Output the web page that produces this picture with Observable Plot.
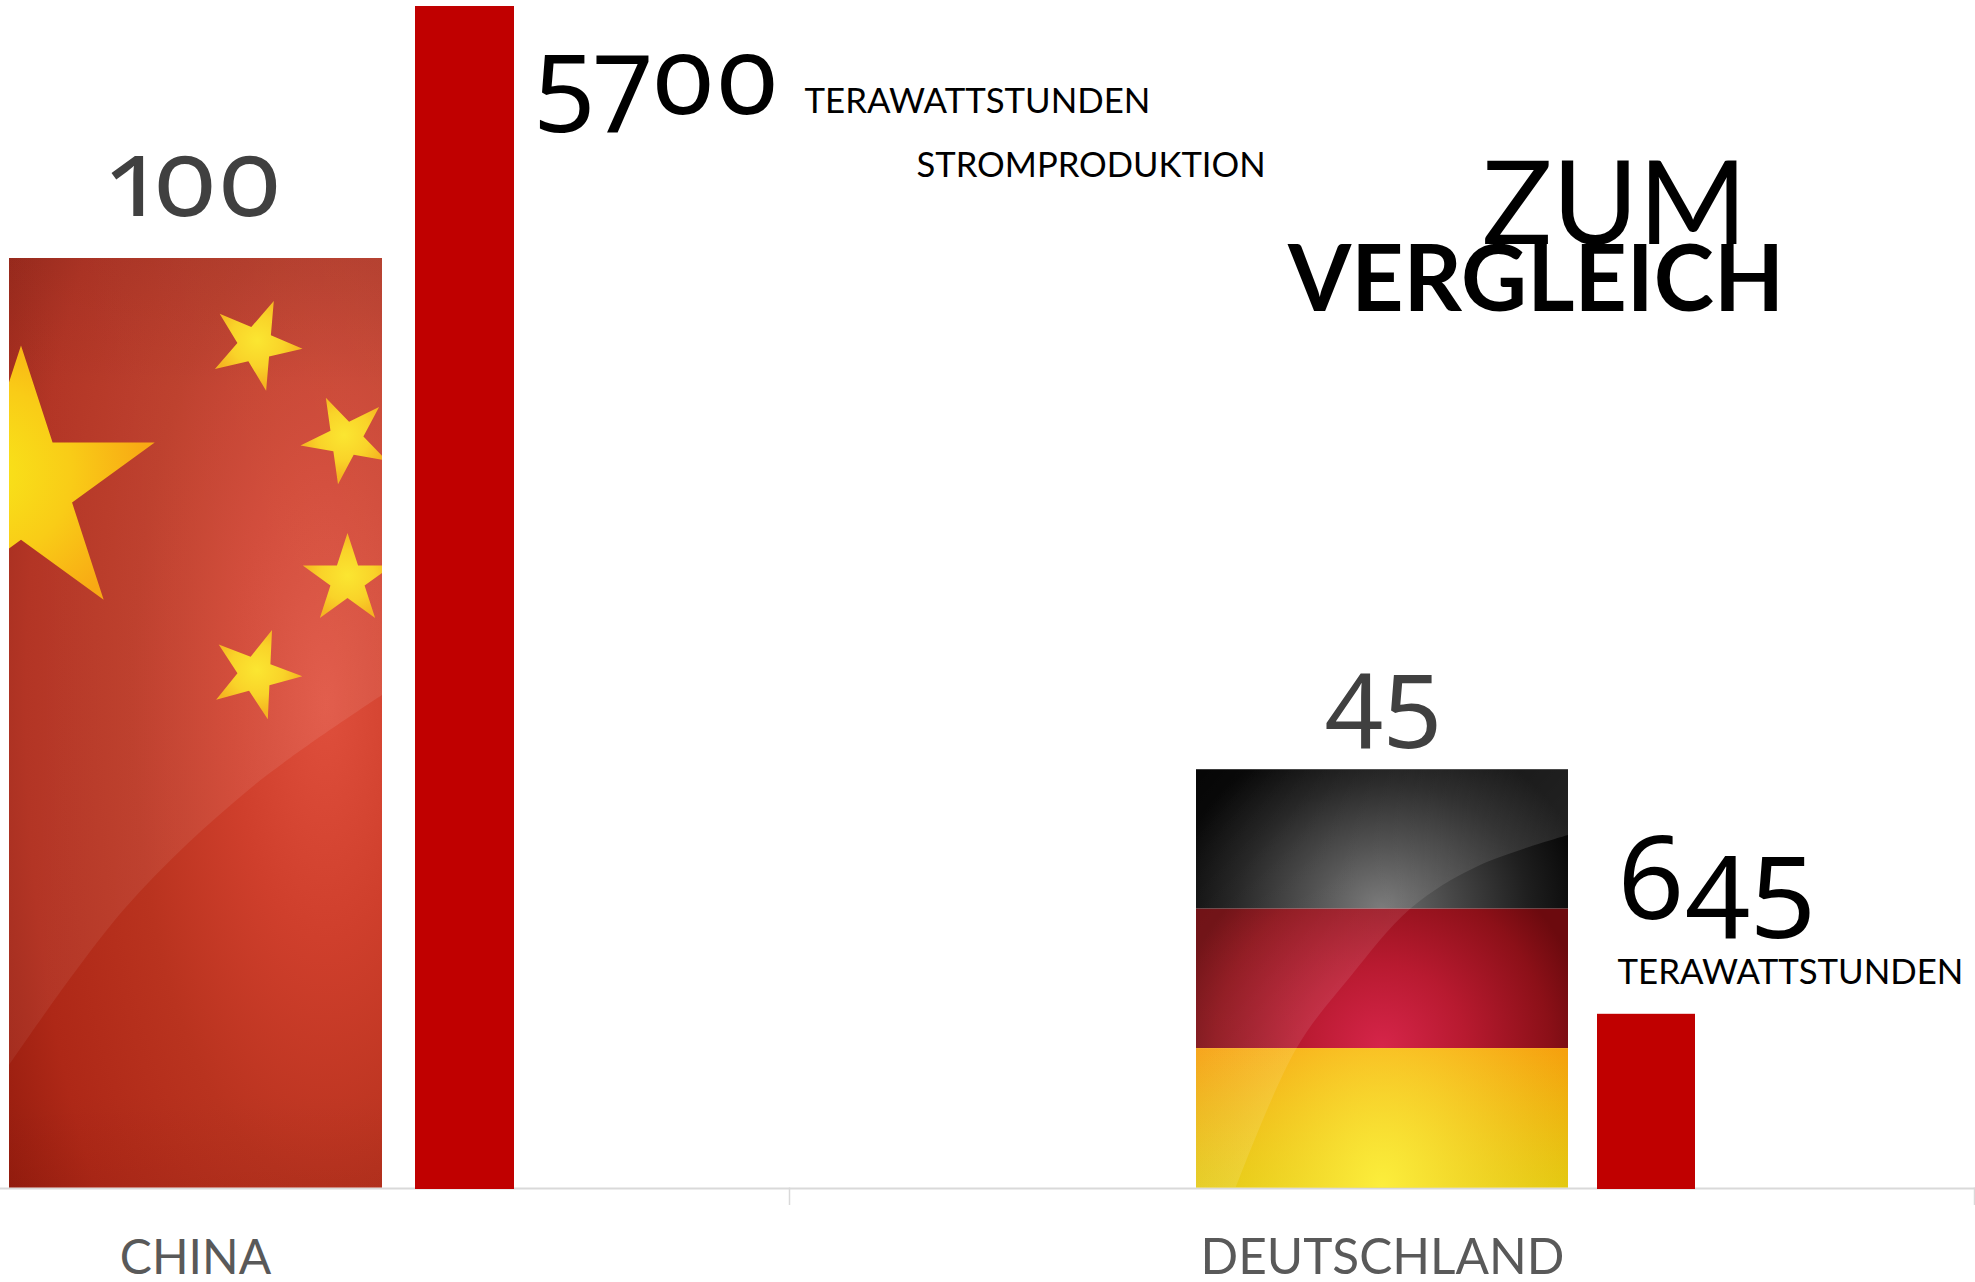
<!DOCTYPE html>
<html lang="de">
<head>
<meta charset="utf-8">
<title>Stromproduktion zum Vergleich</title>
<script src="https://cdn.jsdelivr.net/npm/d3@7"></script>
<script src="https://cdn.jsdelivr.net/npm/@observablehq/plot@0.6"></script>
<style>
  html, body { margin: 0; padding: 0; background: #fff; }
  svg { display: block; }
  .onum text { font-feature-settings: "onum" 1, "pnum" 1; font-variant-numeric: oldstyle-nums proportional-nums; }
</style>
</head>
<body>
<div id="chart"></div>
<script>
// ---- data ----
const laender = ["CHINA", "DEUTSCHLAND"];
const flaggenWerte = [100, 45];
const stromLabels = ["5700", "645"];
const stromBalken = [5700, 838];   // drawn length of the red bars
const einheit = "TERAWATTSTUNDEN";
const kopf = ["STROMPRODUKTION", "ZUM", "VERGLEICH"];

// ---- layout ----
const W = 1975, H = 1282, base = 1187.5, flagTop = 258;
const pxPerUnit = (base - flagTop) / 100;
const py = p => (base - p) / pxPerUnit;      // pixel row -> y scale units
const barFactor = ((base - 6) / pxPerUnit) / 5700;   // TWh -> y scale units
const flagX = [[9, 382], [1196, 1568]];
const barX = [[415, 514], [1597, 1695]];
const labelX = [195, 1382];
const FONT = "Lato, 'Open Sans', sans-serif";
const NUMFONT = "'Noto Sans', 'Open Sans', sans-serif";

const flagTable = laender.map((land, i) => ({land, v: flaggenWerte[i], x1: flagX[i][0], x2: flagX[i][1]}));
const barTable = laender.map((land, i) => ({land, v: stromBalken[i], x1: barX[i][0], x2: barX[i][1]}));
const cnLayers = ["cnBase", "cnEdge"].map(id => ({id, x1: flagX[0][0], x2: flagX[0][1], v: flaggenWerte[0]}));
const stripes = ["deBlack", "deRed", "deGoldBase", "deGoldGlow"].map((id, i) => {
  const k = Math.min(i, 2);
  return {id, x1: flagX[1][0], x2: flagX[1][1], y1: flaggenWerte[1] * (3 - k) / 3, y2: flaggenWerte[1] * (2 - k) / 3};
});

const NS = "http://www.w3.org/2000/svg";
function el(name, attrs, parent) {
  const e = document.createElementNS(NS, name);
  for (const k in attrs) e.setAttribute(k, attrs[k]);
  if (parent) parent.appendChild(e);
  return e;
}
function radial(defs, id, cx, cy, r, stops, tf) {
  const a = {id, cx, cy, r};
  if (tf) a.gradientTransform = tf;
  const g = el("radialGradient", a, defs);
  for (const [o, c, op] of stops) el("stop", {offset: o, "stop-color": c, "stop-opacity": op === undefined ? 1 : op}, g);
}
function linear(defs, id, x2, y2, stops) {
  const g = el("linearGradient", {id, x1: 0, y1: 0, x2, y2}, defs);
  for (const [o, c, op] of stops) el("stop", {offset: o, "stop-color": c, "stop-opacity": op === undefined ? 1 : op}, g);
}

function flagDefs() {
  const defs = el("defs", {});
  radial(defs, "cnBase", 0.85, 0.48, 1.15, [[0, "#df4f3c"], [0.22, "#cf3f2c"], [0.45, "#b9331f"], [0.7, "#ae2817"], [0.88, "#951c0e"], [1, "#8e190b"]]);
  linear(defs, "cnEdge", 0, 1, [[0, "#3a0500", 0.1], [0.14, "#3a0500", 0], [0.9, "#3a0500", 0], [1, "#3a0500", 0.06]]);
  const band = "translate(.5 1) scale(.56 1.5) translate(-.5 -1)";
  radial(defs, "deBlack", 0.5, 1, 1, [[0, "#707070"], [0.35, "#464646"], [0.7, "#1f1f1f"], [1, "#050505"]], "translate(.5 1) scale(.56 1.3) translate(-.5 -1)");
  radial(defs, "deRed", 0.5, 1, 1, [[0, "#d6254a"], [0.4, "#b81a30"], [0.8, "#8c1018"], [1, "#6c0a0e"]], band);
  linear(defs, "deGoldBase", 0, 1, [[0, "#f6a00e"], [1, "#e0c70c"]]);
  radial(defs, "deGoldGlow", 0.5, 1, 1, [[0, "#fcee3c", 1], [1, "#fcd83c", 0]], "translate(.5 1) scale(.56 2) translate(-.5 -1)");
  radial(defs, "goldBig", 0.35, 0.5, 0.62, [[0, "#f8e71a"], [0.55, "#f9cc17"], [1, "#f8a914"]]);
  radial(defs, "goldSmall", 0.5, 0.5, 0.5, [[0, "#fbe631"], [0.6, "#f9d329"], [1, "#f5b521"]]);
  linear(defs, "cnGloss", 1, 0, [[0, "#fff", 0.06], [1, "#fff", 0.09]]);
  linear(defs, "deGloss", 1, 1, [[0, "#fff", 0], [1, "#fff", 0.2]]);
  const c1 = el("clipPath", {id: "clipCn"}, defs);
  el("rect", {x: flagX[0][0], y: flagTop, width: flagX[0][1] - flagX[0][0], height: base - flagTop}, c1);
  const c2 = el("clipPath", {id: "clipDe"}, defs);
  el("rect", {x: flagX[1][0], y: base - 45 * pxPerUnit, width: flagX[1][1] - flagX[1][0], height: 45 * pxPerUnit}, c2);
  return defs;
}

// flag artwork: the stars and the glossy swoosh of each flag image
const starShapes = [
  {x: 21, y: 486, R: 140.6, rot: 0, fill: "goldBig"},
  {x: 255.4, y: 344.6, R: 47.3, rot: 22.9, fill: "goldSmall"},
  {x: 346, y: 439, R: 46, rot: -26, fill: "goldSmall"},
  {x: 347.5, y: 580, R: 47, rot: 0, fill: "goldSmall"},
  {x: 255.4, y: 674, R: 47, rot: 20.7, fill: "goldSmall"}
];
function smooth(pts) { return d3.line().curve(d3.curveCatmullRom)(pts).slice(1); }

function flagArt() {
  const g = el("g", {});
  const cn = el("g", {"clip-path": "url(#clipCn)"}, g);
  const sw = smooth([[9, 1065], [126, 907], [252, 787], [382, 695]]);
  el("path", {d: `M${sw}L382,258L9,258Z`, fill: "url(#cnGloss)"}, cn);
  for (const s of starShapes) {
    const sym = d3.symbol(d3.symbolStar, s.R * s.R / 0.8908130915292852)();
    el("path", {d: sym, transform: `translate(${s.x},${s.y}) rotate(${s.rot})`, fill: `url(#${s.fill})`}, cn);
  }
  const de = el("g", {"clip-path": "url(#clipDe)"}, g);
  const sd = smooth([[1236, 1187], [1296, 1049], [1350, 977], [1411, 908], [1478, 866], [1568, 835]]);
  el("path", {d: `M${sd}L1568,760L1196,760L1196,1187Z`, fill: "url(#deGloss)"}, de);
  return g;
}

const textBase = {fontFamily: FONT, lineAnchor: "bottom"};
const num = {fontFamily: NUMFONT, lineAnchor: "bottom", className: "onum"};

const chart = Plot.plot({
  width: W, height: H,
  margin: 0,
  style: {background: "#fff", overflow: "visible"},
  x: {domain: [0, W], range: [0, W], axis: null},
  y: {domain: [py(H), py(0)], range: [H, 0], axis: null},
  marks: [
    flagDefs,
    Plot.ruleY([0], {x1: 0, x2: W, stroke: "#d9d9d9", strokeWidth: 2, dy: 0.5}),
    Plot.ruleX([789, 1974], {y1: 0, y2: py(1205), stroke: "#d9d9d9", strokeWidth: 1.5}),
    Plot.rect(cnLayers, {x1: "x1", x2: "x2", y1: 0, y2: "v", fill: d => `url(#${d.id})`}),
    Plot.rect(stripes, {x1: "x1", x2: "x2", y1: "y1", y2: "y2", fill: d => `url(#${d.id})`}),
    flagArt,
    Plot.rect(barTable, {x1: "x1", x2: "x2", y1: 0, y2: d => d.v * barFactor, fill: "#c00000", insetBottom: -1.5}),

    Plot.text(flagTable.slice(0, 1), {x: labelX[0], y: "v", dy: -43, text: d => String(d.v), ...num, textAnchor: "middle", fontSize: 110, fill: "#404040"}),
    Plot.text(flagTable.slice(1), {x: labelX[1], y: "v", dy: -39, text: d => String(d.v), ...num, textAnchor: "middle", fontSize: 104, fill: "#404040"}),
    Plot.text(laender.slice(0, 1), {x: labelX[0], y: py(1273), text: d => d, ...textBase, textAnchor: "middle", fontSize: 48, fill: "#595959"}),
    Plot.text(laender.slice(1), {x: labelX[1], y: py(1273), text: d => d, ...textBase, textAnchor: "middle", fontSize: 49.5, fill: "#595959"}),

    Plot.text([stromLabels[0]], {x: 533, y: py(113), text: d => d, ...num, textAnchor: "start", fontSize: 109, fill: "#000"}),
    Plot.text([stromLabels[1]], {x: 1617, y: py(918), text: d => d, ...num, textAnchor: "start", fontSize: 116, fill: "#000"}),
    Plot.text([einheit], {x: 804, y: py(112), text: d => d, ...textBase, textAnchor: "start", fontSize: 34.8, fill: "#000"}),
    Plot.text([einheit], {x: 1617, y: py(983), text: d => d, ...textBase, textAnchor: "start", fontSize: 34.8, fill: "#000"}),
    Plot.text([kopf[0]], {x: 916, y: py(176), text: d => d, ...textBase, textAnchor: "start", fontSize: 34.6, fill: "#000"}),
    Plot.text([kopf[1]], {x: 1614, y: py(243), text: d => d, ...textBase, textAnchor: "middle", fontSize: 117, fill: "#000"}),
    Plot.text([kopf[2]], {x: 1535.5, y: py(310), text: d => d, ...textBase, textAnchor: "middle", fontSize: 91, fontWeight: 700, fill: "#000"})
  ]
});
document.getElementById("chart").appendChild(chart);
</script>
</body>
</html>
